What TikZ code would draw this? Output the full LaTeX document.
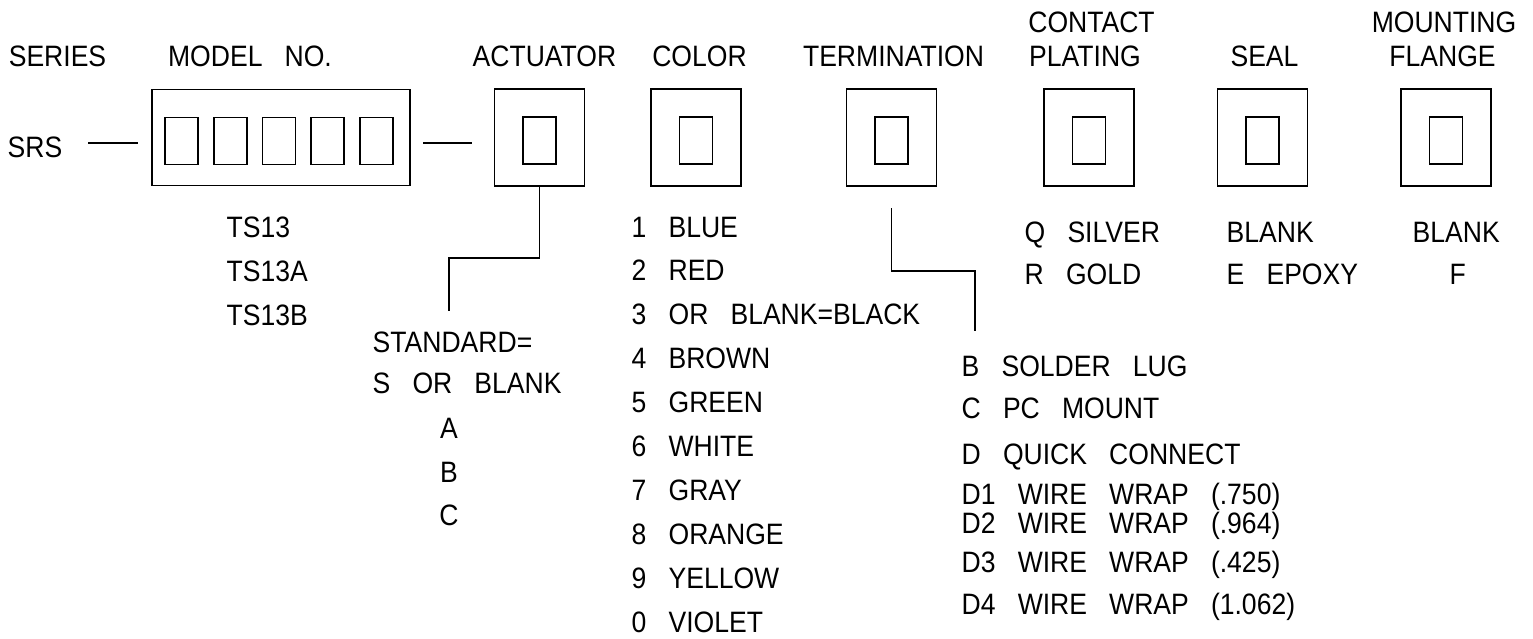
\documentclass[tikz,border=0pt]{standalone}
\usepackage{fontspec}
\setmainfont{Liberation Sans}[WordSpace=3]
\begin{document}
\begin{tikzpicture}[x=1pt,y=-1pt, line width=1.6pt,
  box/.style={draw, line width=1.8pt, minimum width=90pt, minimum height=97pt, inner sep=0pt},
  cell/.style={draw, line width=1.6pt, minimum width=33pt, minimum height=47pt, inner sep=0pt},
  txt/.style={inner sep=0pt, font=\fontsize{29.5}{35}\selectfont, xscale=0.9},
  hdr/.style={txt, anchor=base},
  lbl/.style={txt, anchor=base west}]
\useasboundingbox (0,0) rectangle (1533,638);
% headers
\node[hdr] (hseries) at (57.5,66) {SERIES};
\node[hdr] (hmodel) at (250,66) {MODEL NO.};
\node[hdr] (hact) at (544.5,66) {ACTUATOR};
\node[hdr] (hcol) at (699.5,66) {COLOR};
\node[hdr] (hterm) at (893.5,66) {TERMINATION};
\node[hdr] (hcon1) at (1091.5,32) {CONTACT};
\node[hdr] (hcon2) at (1085,66) {PLATING};
\node[hdr] (hseal) at (1264.5,66) {SEAL};
\node[hdr] (hmnt1) at (1444,32) {MOUNTING};
\node[hdr] (hmnt2) at (1442.5,66) {FLANGE};
% series and model
\node[lbl] (srs) at (7,157) {SRS};
\node[box, minimum width=258pt, minimum height=96pt] (model) at (281,137.5) {};
\foreach \i in {0,...,4} {\node[cell] (m\i) at (181.5+48.75*\i,141) {};}
% option boxes
\node[box] (act) at (539.5,137.5) {};
\node[box] (col) at (696,137.5) {};
\node[box] (term) at (891.5,137.5) {};
\node[box] (con) at (1089,137.5) {};
\node[box] (seal) at (1262.5,137.5) {};
\node[box] (mnt) at (1446,137.5) {};
\foreach \b in {act,col,term,con,seal,mnt} {\node[cell] (\b-in) at ([yshift=-3pt]\b.center) {};}
% dashes
\coordinate (d1a) at (88,143); \coordinate (d1b) at (138,143);
\coordinate (d2a) at (423,143); \coordinate (d2b) at (472,143);
\draw (d1a) -- (d1b);
\draw (d2a) -- (d2b);
% leaders
\coordinate (actbend) at (449,258); \coordinate (actend) at (449,311);
\draw (act.south) |- (actbend) -- (actend);
\coordinate (tstart) at (891.5,208); \coordinate (tbend) at (975,271); \coordinate (tend) at (975,331);
\draw (tstart) |- (tbend) -- (tend);
% model list
\node[lbl] (ts1) at (226,237) {TS13};
\node[lbl] (ts2) at (226,281) {TS13A};
\node[lbl] (ts3) at (226,325) {TS13B};
% actuator list
\node[lbl] (a1) at (372,352) {STANDARD=};
\node[lbl] (a2) at (372,393) {S OR BLANK};
\node[hdr] (a3) at (449,438) {A};
\node[hdr] (a4) at (449,482) {B};
\node[hdr] (a5) at (449,525) {C};
% color list
\node[lbl] (c1) at (631,237) {1 BLUE};
\node[lbl] (c2) at (631,280.9) {2 RED};
\node[lbl] (c3) at (631,324.8) {3 OR BLANK=BLACK};
\node[lbl] (c4) at (631,368.7) {4 BROWN};
\node[lbl] (c5) at (631,412.6) {5 GREEN};
\node[lbl] (c6) at (631,456.5) {6 WHITE};
\node[lbl] (c7) at (631,500.4) {7 GRAY};
\node[lbl] (c8) at (631,544.3) {8 ORANGE};
\node[lbl] (c9) at (631,588.2) {9 YELLOW};
\node[lbl] (c0) at (631,632) {0 VIOLET};
% termination list
\node[lbl] (t1) at (961,376) {B SOLDER LUG};
\node[lbl] (t2) at (961,418) {C PC MOUNT};
\node[lbl] (t3) at (961,464) {D QUICK CONNECT};
\node[lbl] (t4) at (961,504) {D1 WIRE WRAP (.750)};
\node[lbl] (t5) at (961,533) {D2 WIRE WRAP (.964)};
\node[lbl] (t6) at (961,572) {D3 WIRE WRAP (.425)};
\node[lbl] (t7) at (961,614) {D4 WIRE WRAP (1.062)};
% plating, seal, flange
\node[lbl] (p1) at (1024,242) {Q SILVER};
\node[lbl] (p2) at (1024,284) {R GOLD};
\node[lbl] (s1) at (1226,242) {BLANK};
\node[lbl] (s2) at (1226,284) {E EPOXY};
\node[lbl] (f1) at (1412,242) {BLANK};
\node[lbl] (f2) at (1449,284) {F};
\end{tikzpicture}
\end{document}
